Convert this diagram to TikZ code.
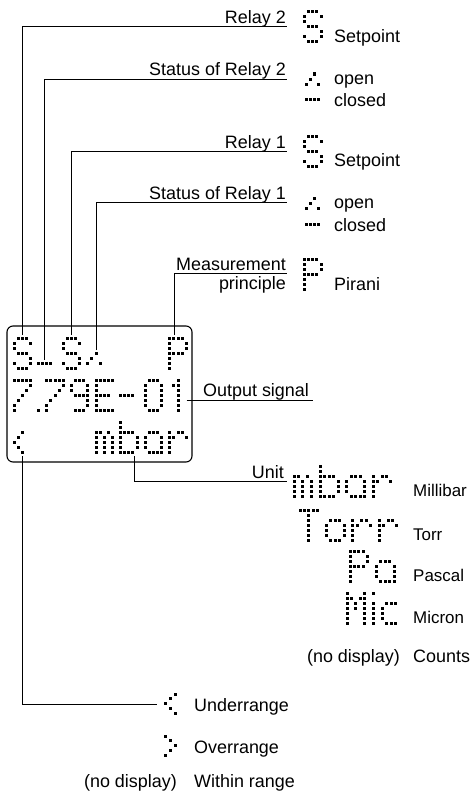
\documentclass[tikz,border=0pt]{standalone}
\usepackage{fontspec}
\setmainfont{Liberation Sans}
\def\GlS{1/0,2/0,3/0,0/1,4/1,0/2,1/3,2/3,3/3,4/4,0/5,4/5,1/6,2/6,3/6}
\def\GlP{0/0,1/0,2/0,3/0,0/1,4/1,0/2,4/2,0/3,1/3,2/3,3/3,0/4,0/5,0/6}
\def\GlSeven{0/0,1/0,2/0,3/0,4/0,4/1,3/2,2/3,1/4,0/5,0/6}
\def\GlDot{0/6}
\def\GlNine{1/0,2/0,3/0,0/1,4/1,0/2,4/2,1/3,2/3,3/3,4/3,4/4,4/5,1/6,2/6,3/6}
\def\GlE{0/0,1/0,2/0,3/0,4/0,0/1,0/2,0/3,1/3,2/3,3/3,0/4,0/5,0/6,1/6,2/6,3/6,4/6}
\def\GlMinus{0/3,1/3,2/3,3/3}
\def\GlZero{1/0,2/0,3/0,0/1,0/2,0/3,0/4,0/5,4/1,4/2,4/3,4/4,4/5,1/6,2/6,3/6}
\def\GlOne{2/0,1/1,2/1,2/2,2/3,2/4,2/5,2/6}
\def\GlLess{2/0,1/1,0/2,1/3,2/4}
\def\GlMore{0/0,1/1,2/2,1/3,0/4}
\def\Glm{0/2,1/2,3/2,0/3,2/3,4/3,0/4,2/4,4/4,0/5,2/5,4/5,0/6,2/6,4/6}
\def\Glb{0/0,0/1,0/2,1/2,2/2,3/2,0/3,4/3,0/4,4/4,0/5,4/5,0/6,1/6,2/6,3/6}
\def\Gla{1/2,2/2,3/2,0/3,4/3,0/4,4/4,0/5,4/5,1/6,2/6,3/6,4/6}
\def\Glr{0/2,2/2,3/2,0/3,1/3,4/3,0/4,0/5,0/6}
\def\GlT{0/0,1/0,2/0,3/0,4/0,2/1,2/2,2/3,2/4,2/5,2/6}
\def\Glo{1/2,2/2,3/2,0/3,4/3,0/4,4/4,0/5,4/5,1/6,2/6,3/6}
\def\GlM{0/0,0/1,0/2,0/3,0/4,0/5,0/6,4/0,4/1,4/2,4/3,4/4,4/5,4/6,1/1,3/1,2/2,2/3}
\def\Gli{0/0,0/2,0/3,0/4,0/5,0/6}
\def\Glc{1/2,2/2,3/2,0/3,0/4,0/5,1/6,2/6,3/6}
\def\GlOpen{0/2,1/1,2/0,3/2}
\def\GlClosed{0/0,1/0,2/0,3/0}
% x0, y0, hpitch, vpitch, list
\newcommand\dmglyph[5]{%
  \foreach \cc/\rr in #5 {\fill[dotc] ({#1+\cc*#3-1.5},{#2+\rr*#4-1.5}) rectangle ++(3,3);}}
\newcommand\dispch[3]{\dmglyph{14+#1*4.1}{#2}{4.1}{5}{#3}}
\newcommand\legch[4]{\dmglyph{#1}{#2}{#3}{5}{#4}}
\tikzset{
  lbl/.style={font=\fontsize{18}{21}\selectfont, inner sep=0pt, text=black},
  lblR/.style={lbl, anchor=base east},
  lblL/.style={lbl, anchor=base west},
  ulbl/.style={font=\fontsize{17}{20}\selectfont, inner sep=0pt, text=black, anchor=base west},
  lead/.style={draw=black, line width=0.8bp},
  dotc/.style={fill=black},
  dispbox/.style={draw=black, line width=1.1bp, rounded corners=6bp}
}
\begin{document}
\begin{tikzpicture}[x=1bp,y=-1bp]
\useasboundingbox (0,0) rectangle (473,793);
% display
\draw[dispbox] (7,326) rectangle (192,462);
\dispch{0}{338}{\GlS}
\dispch{6}{363}{\GlClosed}
\dispch{12}{338}{\GlS}
\dispch{18}{353}{\GlOpen}
\dispch{38}{338}{\GlP}
\dispch{0}{380}{\GlSeven}
\dispch{6}{380}{\GlDot}
\dispch{8}{380}{\GlSeven}
\dispch{14}{380}{\GlNine}
\dispch{20}{380}{\GlE}
\dispch{26}{380}{\GlMinus}
\dispch{32}{380}{\GlZero}
\dispch{38}{380}{\GlOne}
\dispch{0}{432}{\GlLess}
\dispch{20}{422}{\Glm}
\dispch{26}{422}{\Glb}
\dispch{32}{422}{\Gla}
\dispch{38}{422}{\Glr}
% connector anchors on the display
\coordinate (tS1) at (22.2,335);
\coordinate (tCl) at (44.75,359.5);
\coordinate (tS2) at (71.4,335);
\coordinate (tOp) at (96,349.5);
\coordinate (tP) at (174,335);
\coordinate (tOut) at (186.5,400);
\coordinate (bLess) at (22.2,456);
\coordinate (bUnit) at (134,456);
% line ends
\coordinate (eR2) at (287,26.7);
\coordinate (eSR2) at (287,79);
\coordinate (eR1) at (287,151.7);
\coordinate (eSR1) at (287,202.3);
\coordinate (eMP) at (287,273.3);
\coordinate (eOut) at (313,400);
\coordinate (eUnit) at (287,481.7);
\coordinate (eLess) at (157,704);
% labels
\node[lblR] (lR2) at (286,23.5) {Relay 2};
\node[lblR] (lSR2) at (286,75.5) {Status of Relay 2};
\node[lblR] (lR1) at (286,148.5) {Relay 1};
\node[lblR] (lSR1) at (286,199) {Status of Relay 1};
\node[lblR] (lMP1) at (286,270.5) {Measurement};
\node[lblR] (lMP2) at (286,289.5) {principle};
\node[lblL] (lOut) at (203,396.5) {Output signal};
\node[lblR] (lUnit) at (284,478) {Unit};
% connectors
\draw[lead] (tS1) |- (eR2);
\draw[lead] (tCl) |- (eSR2);
\draw[lead] (tS2) |- (eR1);
\draw[lead] (tOp) |- (eSR1);
\draw[lead] (tP) |- (eMP);
\draw[lead] (tOut) -- (eOut);
\draw[lead] (bUnit) |- (eUnit);
\draw[lead] (bLess) |- (eLess);
% legend: relays
\legch{304}{12}{4.3}{\GlS}
\node[lblL] (sp2) at (334,43) {Setpoint};
\legch{306}{74}{4.3}{\GlOpen}
\node[lblL] (op2) at (334,84.5) {open};
\legch{306}{99}{4.3}{\GlClosed}
\node[lblL] (cl2) at (334,106) {closed};
\legch{304}{136}{4.3}{\GlS}
\node[lblL] (sp1) at (334,166.5) {Setpoint};
\legch{306}{198}{4.3}{\GlOpen}
\node[lblL] (op1) at (334,208.5) {open};
\legch{306}{224}{4.3}{\GlClosed}
\node[lblL] (cl1) at (334,231) {closed};
\legch{304}{259}{4.3}{\GlP}
\node[lblL] (pir) at (334,290) {Pirani};
% legend: units
\legch{294}{466}{4.4}{\Glm}
\legch{320.4}{466}{4.4}{\Glb}
\legch{346.8}{466}{4.4}{\Gla}
\legch{373.2}{466}{4.4}{\Glr}
\node[ulbl] (uMb) at (413,496.5) {Millibar};
\legch{300}{510}{4.4}{\GlT}
\legch{326.4}{510}{4.4}{\Glo}
\legch{352.8}{510}{4.4}{\Glr}
\legch{379.2}{510}{4.4}{\Glr}
\node[ulbl] (uTo) at (413,540) {Torr};
\legch{350}{551}{4.4}{\GlP}
\legch{376.4}{551}{4.4}{\Gla}
\node[ulbl] (uPa) at (413,581) {Pascal};
\legch{347}{593}{4.4}{\GlM}
\legch{373.4}{593}{4.4}{\Gli}
\legch{382.2}{593}{4.4}{\Glc}
\node[ulbl] (uMi) at (413,623.5) {Micron};
\node[lblR] (uNd) at (400,662) {(no display)};
\node[lblL] (uCo) at (413,662) {Counts};
% legend: range
\dmglyph{165}{694}{5}{4.8}{\GlLess}
\node[lblL] (rU) at (194,711) {Underrange};
\dmglyph{165}{736}{5}{4.8}{\GlMore}
\node[lblL] (rO) at (194,753) {Overrange};
\node[lblR] (rNd) at (177,787) {(no display)};
\node[lblL] (rW) at (194,787) {Within range};
\end{tikzpicture}
\end{document}
